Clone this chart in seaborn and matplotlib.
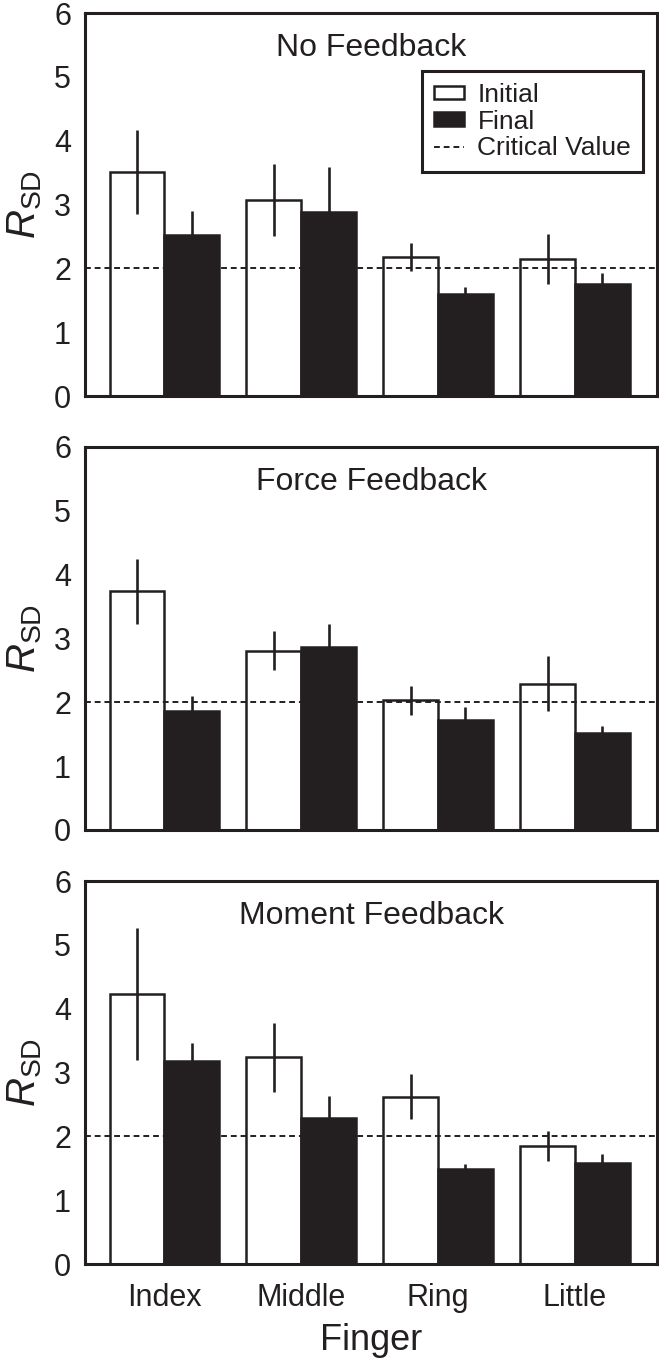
import matplotlib
matplotlib.use("Agg")
import numpy as np
import pandas as pd
import seaborn as sns
import matplotlib.pyplot as plt
from matplotlib.patches import Patch
from matplotlib.lines import Line2D

# ---------------- data ----------------
fingers = ["Index", "Middle", "Ring", "Little"]
phases = ["Initial", "Final"]
conditions = ["No Feedback", "Force Feedback", "Moment Feedback"]

initial_no_fb = [3.51, 3.07, 2.18, 2.15]
initial_no_fb_err = [0.66, 0.56, 0.22, 0.39]
final_no_fb = [2.53, 2.88, 1.60, 1.76]
final_no_fb_err = [0.37, 0.71, 0.11, 0.17]

initial_force_fb = [3.74, 2.81, 2.03, 2.29]
initial_force_fb_err = [0.51, 0.30, 0.23, 0.43]
final_force_fb = [1.86, 2.86, 1.73, 1.52]
final_force_fb_err = [0.24, 0.37, 0.19, 0.11]

initial_moment_fb = [4.23, 3.24, 2.62, 1.85]
initial_moment_fb_err = [1.03, 0.54, 0.35, 0.23]
final_moment_fb = [3.18, 2.29, 1.49, 1.58]
final_moment_fb_err = [0.28, 0.35, 0.08, 0.15]

critical_value = 2.0
y_ticks = [0, 1, 2, 3, 4, 5, 6]

panel_data = [
    (initial_no_fb, initial_no_fb_err, final_no_fb, final_no_fb_err),
    (initial_force_fb, initial_force_fb_err, final_force_fb, final_force_fb_err),
    (initial_moment_fb, initial_moment_fb_err, final_moment_fb, final_moment_fb_err),
]

# ---------------- style ----------------
BLACK = "#231f20"
sns.set_theme(style="white")
plt.rcParams["font.family"] = ["Liberation Sans", "DejaVu Sans"]
plt.rcParams["mathtext.fontset"] = "custom"
plt.rcParams["mathtext.rm"] = "Liberation Sans"
plt.rcParams["mathtext.it"] = "Liberation Sans:italic"
plt.rcParams["mathtext.bf"] = "Liberation Sans:bold"

fig = plt.figure(figsize=(6.59, 13.59), dpi=100)
bottoms = [0.7086, 0.3893, 0.0699]
ax_left, ax_w, ax_h = 0.129, 0.868, 0.2818
DASH = (0, (3.0, 2.0))

for i, cond in enumerate(conditions):
    init, init_err, fin, fin_err = panel_data[i]
    ax = fig.add_axes([ax_left, bottoms[i], ax_w, ax_h])
    df = pd.DataFrame({
        "Finger": fingers * 2,
        "Phase": ["Initial"] * 4 + ["Final"] * 4,
        "RSD": init + fin,
    })
    sns.barplot(data=df, x="Finger", y="RSD", hue="Phase", order=fingers,
                hue_order=phases, palette={"Initial": "white", "Final": BLACK},
                edgecolor=BLACK, linewidth=1.8, errorbar=None, width=0.8,
                saturation=1, legend=False, ax=ax, zorder=2)
    errs = {"Initial": init_err, "Final": fin_err}
    for container, phase in zip(ax.containers, phases):
        for bar, e in zip(container, errs[phase]):
            xc = bar.get_x() + bar.get_width() / 2
            h = bar.get_height()
            ax.vlines(xc, h - e, h + e, color=BLACK, lw=1.9, zorder=4)
    ax.axhline(critical_value, color=BLACK, lw=1.4, ls=DASH, zorder=3)

    ax.set_xlim(-0.58, 3.60)
    ax.set_ylim(0, 6)
    ax.set_yticks(y_ticks)
    ax.tick_params(axis="both", length=0, labelsize=22, colors=BLACK)
    ax.tick_params(axis="y", pad=10)
    ax.tick_params(axis="x", pad=14)
    for sp in ax.spines.values():
        sp.set_visible(True)
        sp.set_linewidth(2.2)
        sp.set_color(BLACK)
    ax.set_ylabel(r"$R_{\mathrm{SD}}$", fontsize=29, color=BLACK, va="center")
    ax.yaxis.set_label_coords(-0.105, 0.5)
    ax.text(0.5, 0.888, cond, transform=ax.transAxes, ha="center",
            va="baseline", fontsize=23, color=BLACK)

    if i < 2:
        ax.set_xticklabels([])
        ax.set_xlabel("")
    else:
        ax.set_xlabel("Finger", fontsize=26, color=BLACK, labelpad=7)

    if i == 0:
        handles = [
            Patch(facecolor="white", edgecolor=BLACK, linewidth=1.8),
            Patch(facecolor=BLACK, edgecolor=BLACK, linewidth=1.8),
            Line2D([0], [0], color=BLACK, lw=1.4, ls=DASH),
        ]
        leg = ax.legend(handles, ["Initial", "Final", "Critical Value"],
                        loc="upper right", bbox_to_anchor=(0.9755, 0.8486),
                        borderaxespad=0, fontsize=19, frameon=True,
                        fancybox=False, framealpha=1, handlelength=1.13,
                        handleheight=0.4, handletextpad=0.5, labelspacing=0.1,
                        borderpad=0.45)
        leg.get_frame().set_edgecolor(BLACK)
        leg.get_frame().set_linewidth(2.2)
        for t in leg.get_texts():
            t.set_color(BLACK)

fig.savefig("out.png", dpi=100)
